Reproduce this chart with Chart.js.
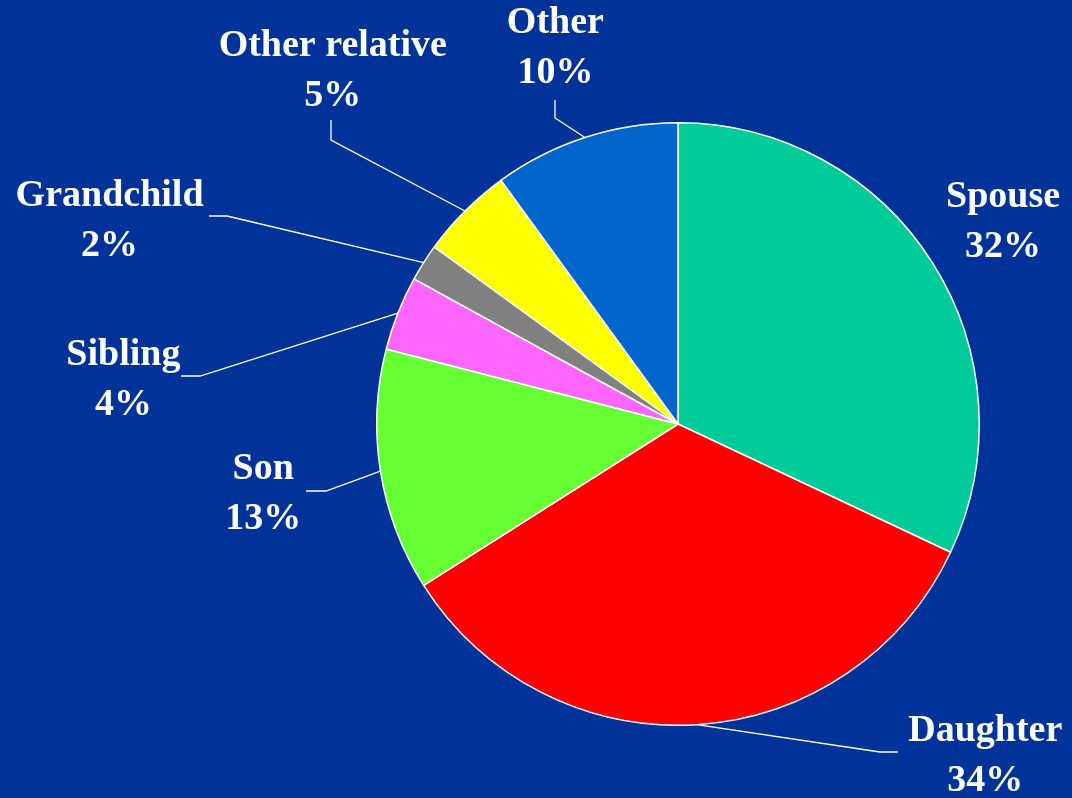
<!DOCTYPE html>
<html>
<head>
<meta charset="utf-8">
<script src="https://cdn.jsdelivr.net/npm/chart.js@4"></script>
<style>
  html, body { margin: 0; padding: 0; background: #003399; }
  #wrap { width: 1072px; height: 798px; }
</style>
</head>
<body>
<div id="wrap"><canvas id="grafica" width="1072" height="798"></canvas></div>
<script>
// DATOS
const categorias = ["Spouse", "Daughter", "Son", "Sibling", "Grandchild", "Other relative", "Other"];
const porcentajes = [32, 34, 13, 4, 2, 5, 10];
const colores = ["#00CC99", "#FF0000", "#66FF33", "#FF66FF", "#808080", "#FFFF00", "#0066CC"];

// posicion de cada etiqueta respecto al centro (en radios) y quiebre de la linea guia
// codo/fin en pixeles relativos al centro; null = sin linea
const posEtiquetas = [
  { x: 1.079, y: -0.669, guia: null },
  { x: 1.020, y: 1.103, guia: [[202, 328], [220, 328]] },
  { x: -1.377, y: 0.232, guia: [[-352, 67], [-372, 67]] },
  { x: -1.841, y: -0.146, guia: [[-478, -48], [-497, -48]] },
  { x: -1.887, y: -0.672, guia: [[-451, -208], [-469, -208]] },
  { x: -1.146, y: -1.172, guia: [[-347, -284], [-347, -304]] },
  { x: -0.407, y: -1.248, guia: [[-123, -306], [-123, -324]] }
];

// dibuja las etiquetas con sus lineas guia
const etiquetas = {
  id: "etiquetas",
  afterDraw(chart) {
    const ctx = chart.ctx;
    const arcos = chart.getDatasetMeta(0).data;
    ctx.save();
    ctx.strokeStyle = "#ffffff";
    ctx.lineWidth = 1.3;
    ctx.fillStyle = "#ffffff";
    ctx.font = "bold 38px 'Liberation Serif', 'Times New Roman', serif";
    ctx.textAlign = "center";
    ctx.textBaseline = "middle";
    for (let i = 0; i < arcos.length; i++) {
      const a = arcos[i];
      const cx = a.x, cy = a.y, r = a.outerRadius;
      const medio = (a.startAngle + a.endAngle) / 2;
      const p = posEtiquetas[i];
      if (p.guia) {
        ctx.beginPath();
        ctx.moveTo(cx + Math.cos(medio) * r, cy + Math.sin(medio) * r);
        ctx.lineTo(cx + p.guia[0][0], cy + p.guia[0][1]);
        ctx.lineTo(cx + p.guia[1][0], cy + p.guia[1][1]);
        ctx.stroke();
      }
      const tx = cx + p.x * r;
      const ty = cy + p.y * r;
      ctx.fillText(categorias[i], tx, ty - 25);
      ctx.fillText(porcentajes[i] + "%", tx, ty + 25);
    }
    ctx.restore();
  }
};

const micanvas = document.getElementById("grafica").getContext("2d");
const grafica = new Chart(micanvas, {
  type: "pie",
  data: {
    labels: categorias,
    datasets: [{
      data: porcentajes,
      backgroundColor: colores,
      borderColor: "#ffffff",
      borderWidth: 1.5
    }]
  },
  options: {
    responsive: false,
    animation: false,
    layout: { padding: { left: 376, right: 92, top: 122, bottom: 72 } },
    plugins: {
      legend: { display: false },
      tooltip: { enabled: false }
    }
  },
  plugins: [etiquetas]
});
</script>
</body>
</html>
